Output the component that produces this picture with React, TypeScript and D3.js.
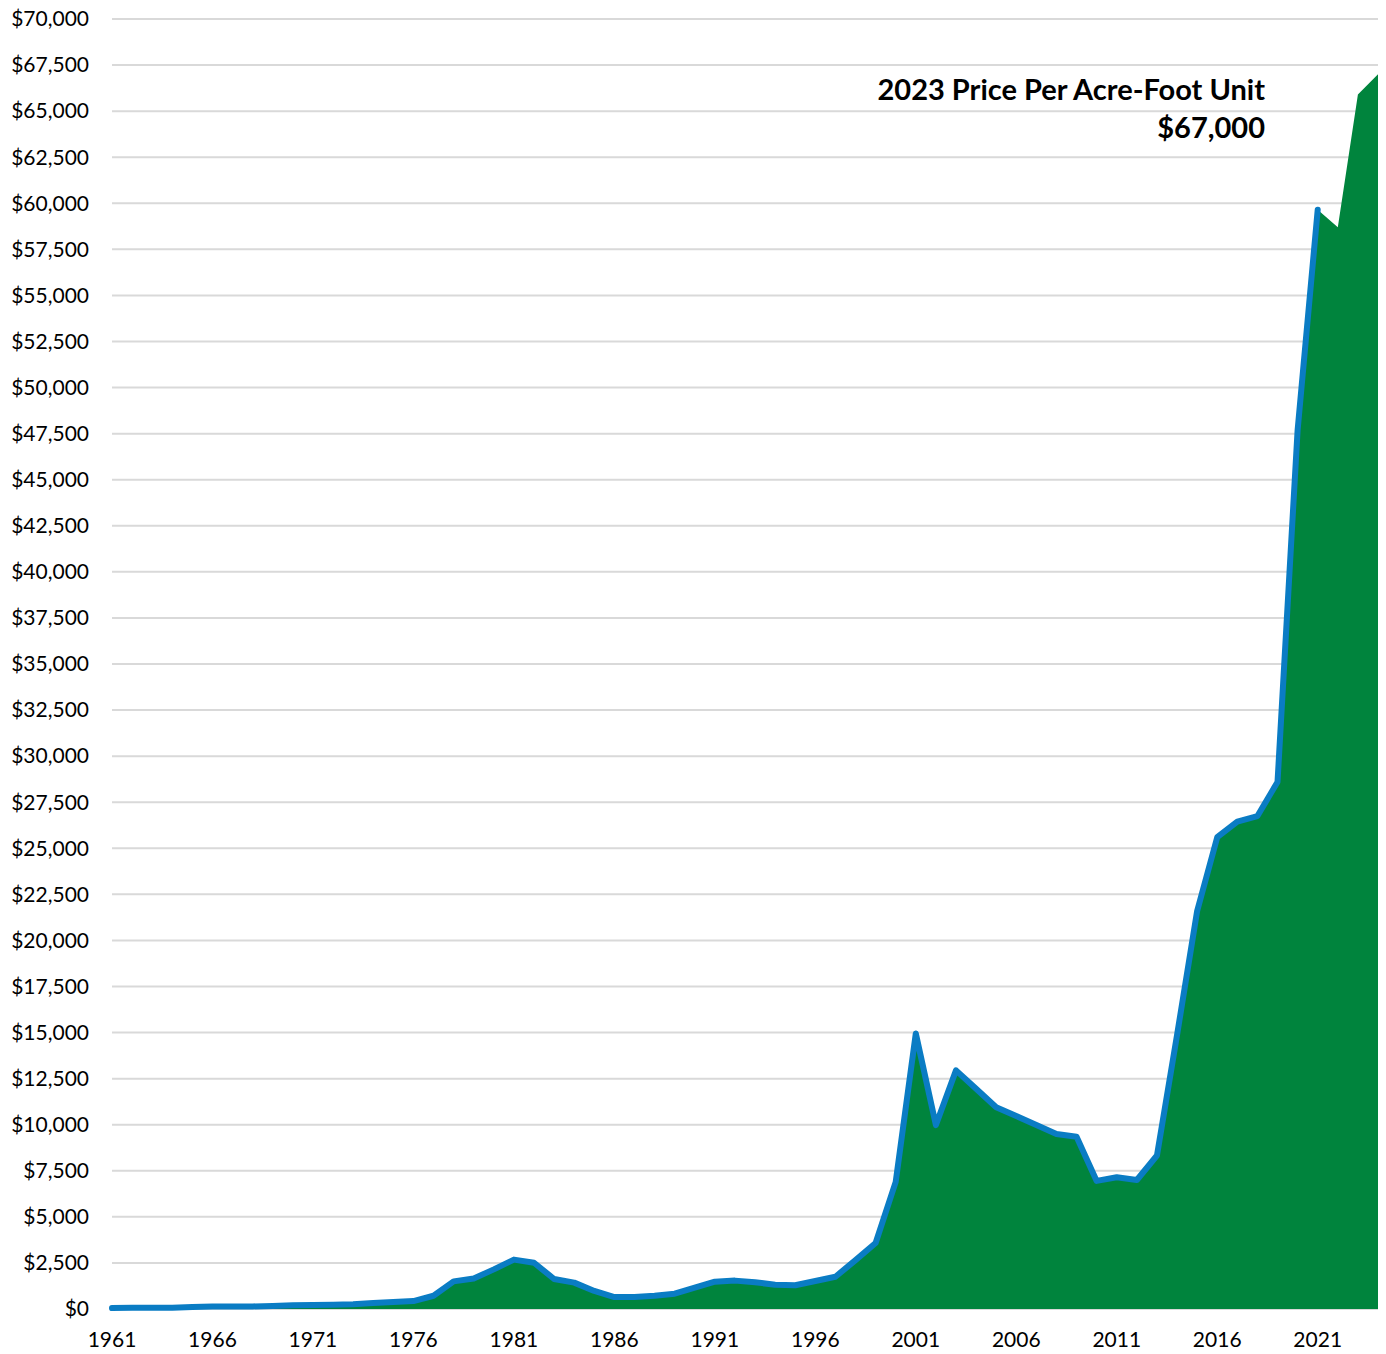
import React from "react";
import * as d3 from "d3";

const years: number[] = d3.range(1961, 2025);
const prices: number[] = [
  50, 70, 70, 70, 110, 130, 130, 140, 160, 200,
  220, 230, 260, 320, 380, 430, 720, 1500, 1650, 2150,
  2680, 2510, 1630, 1430, 980, 650, 650, 720, 830, 1160,
  1480, 1540, 1450, 1320, 1290, 1520, 1750, 2650, 3580, 6900,
  14950, 9980, 12950, 11950, 10950, 10470, 9980, 9500, 9350, 6950,
  7150, 7000, 8330, 14870, 21600, 25600, 26450, 26750, 28600, 47700,
  59650, 58700, 65900, 67000,
];
const lineEndYear = 2021;
const yTicks: number[] = d3.range(0, 70001, 2500);
const xTickYears: number[] = d3.range(1961, 2022, 5);
const annotationTitle = "2023 Price Per Acre-Foot Unit";
const annotationValue = "$67,000";

const W = 1386;
const H = 1354;
const left = 112;
const right = 1378;
const top = 19;
const bottom = 1309;

export default function App() {
  const x = d3.scaleLinear().domain([1961, 2024]).range([left, right]);
  const y = d3.scaleLinear().domain([0, 70000]).range([bottom, top]);
  const data = years.map((yr, i) => ({ yr, v: prices[i] }));
  const area = d3
    .area<{ yr: number; v: number }>()
    .x((d) => x(d.yr))
    .y0(y(0))
    .y1((d) => y(d.v));
  const line = d3
    .line<{ yr: number; v: number }>()
    .x((d) => x(d.yr))
    .y((d) => y(d.v));
  const lineData = data.filter((d) => d.yr <= lineEndYear);
  const fmt = (v: number) => "$" + d3.format(",")(v);
  const font = "Lato, 'Open Sans', sans-serif";

  return (
    <svg
      width={W}
      height={H}
      style={{ position: "absolute", left: 0, top: 0, background: "#fff" }}
      fontFamily={font}
    >
      {yTicks.map((t) => (
        <g key={t}>
          <line
            x1={left}
            x2={right}
            y1={y(t)}
            y2={y(t)}
            stroke="#d9d9d9"
            strokeWidth={2}
          />
          <text
            x={89}
            y={y(t)}
            dy="0.35em"
            textAnchor="end"
            fontSize={21}
            fill="#000"
          >
            {fmt(t)}
          </text>
        </g>
      ))}
      <path d={area(data) || ""} fill="#00843d" />
      <path
        d={line(lineData) || ""}
        fill="none"
        stroke="#0a7cc4"
        strokeWidth={6}
        strokeLinejoin="round"
        strokeLinecap="round"
      />
      {xTickYears.map((yr) => (
        <text
          key={yr}
          x={x(yr)}
          y={1340}
          dy="0.35em"
          textAnchor="middle"
          fontSize={21}
          fill="#000"
        >
          {yr}
        </text>
      ))}
      <text
        x={1265}
        y={100}
        textAnchor="end"
        fontSize={29}
        fontWeight="bold"
        fill="#000"
      >
        {annotationTitle}
      </text>
      <text
        x={1265}
        y={138}
        textAnchor="end"
        fontSize={29}
        fontWeight="bold"
        fill="#000"
      >
        {annotationValue}
      </text>
    </svg>
  );
}
